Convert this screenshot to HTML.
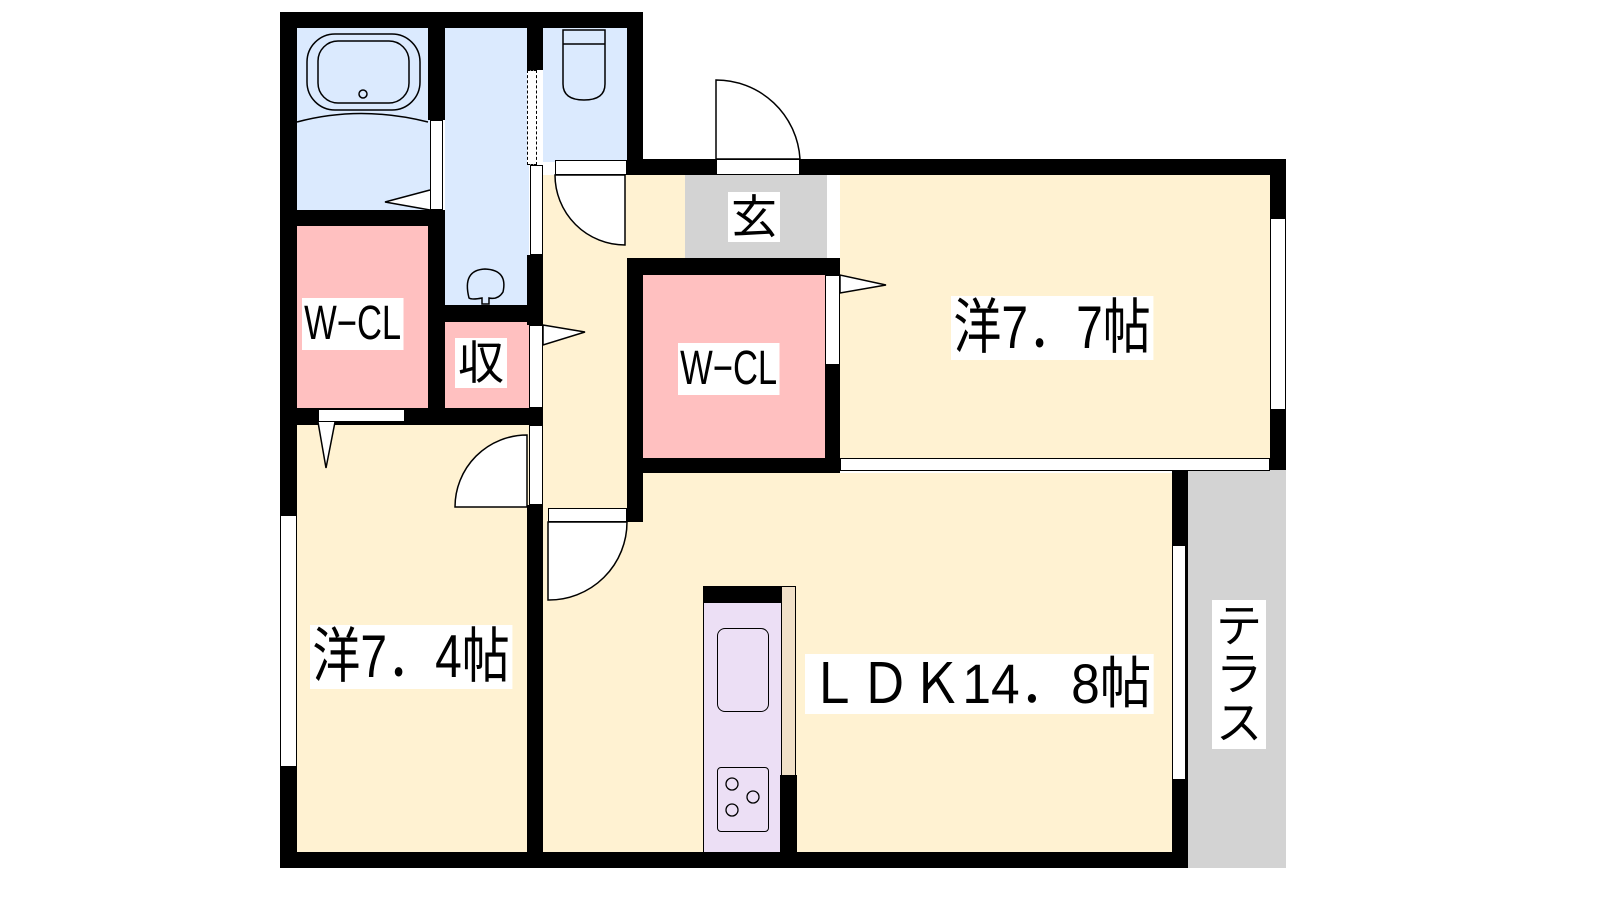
<!DOCTYPE html>
<html><head><meta charset="utf-8"><style>
body{margin:0;width:1600px;height:900px;background:#fff;position:relative;overflow:hidden;font-family:"Liberation Sans","Noto Sans CJK JP",sans-serif}
div{position:absolute;box-sizing:border-box}
.k{background:#000}.b{background:#dbeafe}.p{background:#ffc0c0}.c{background:#fff2d2}.g{background:#d3d3d3}
.w{background:#fff;border:1px solid #000}
.t{background:#fff;color:#000;line-height:1;white-space:nowrap;padding:2px 3px}
</style></head><body>
<div class="b" style="left:297px;top:28px;width:135px;height:184px"></div>
<div class="b" style="left:445px;top:28px;width:84px;height:280px"></div>
<div class="b" style="left:543px;top:28px;width:85px;height:134px"></div>
<div class="p" style="left:297px;top:226px;width:133px;height:184px"></div>
<div class="p" style="left:445px;top:322px;width:84px;height:88px"></div>
<div class="c" style="left:543px;top:175px;width:142px;height:350px"></div>
<div class="g" style="left:685px;top:175px;width:142px;height:85px"></div>
<div class="p" style="left:643px;top:275px;width:184px;height:185px"></div>
<div class="c" style="left:840px;top:175px;width:432px;height:285px"></div>
<div class="c" style="left:297px;top:425px;width:232px;height:429px"></div>
<div class="c" style="left:543px;top:473px;width:631px;height:381px"></div>
<div class="g" style="left:1188px;top:470px;width:98px;height:398px"></div>
<div class="k" style="left:280px;top:12px;width:17px;height:856px"></div>
<div class="k" style="left:280px;top:12px;width:363px;height:16px"></div>
<div class="k" style="left:627px;top:12px;width:16px;height:163px"></div>
<div class="k" style="left:627px;top:159px;width:659px;height:16px"></div>
<div class="k" style="left:1270px;top:159px;width:16px;height:311px"></div>
<div class="k" style="left:280px;top:852px;width:908px;height:16px"></div>
<div class="k" style="left:1172px;top:470px;width:16px;height:398px"></div>
<div class="k" style="left:297px;top:210px;width:148px;height:16px"></div>
<div class="k" style="left:428px;top:28px;width:17px;height:92px"></div>
<div class="k" style="left:428px;top:210px;width:17px;height:200px"></div>
<div class="k" style="left:527px;top:28px;width:16px;height:42px"></div>
<div class="k" style="left:527px;top:255px;width:16px;height:70px"></div>
<div class="k" style="left:445px;top:305px;width:98px;height:17px"></div>
<div class="k" style="left:280px;top:408px;width:263px;height:17px"></div>
<div class="k" style="left:527px;top:505px;width:16px;height:363px"></div>
<div class="k" style="left:627px;top:258px;width:213px;height:17px"></div>
<div class="k" style="left:627px;top:258px;width:16px;height:264px"></div>
<div class="k" style="left:825px;top:365px;width:15px;height:108px"></div>
<div class="k" style="left:825px;top:258px;width:15px;height:17px"></div>
<div class="k" style="left:627px;top:458px;width:213px;height:15px"></div>
<div class="w" style="left:716px;top:159px;width:84px;height:16px"></div>
<div class="w" style="left:555px;top:160px;width:72px;height:15px"></div>
<div class="w" style="left:430px;top:120px;width:13px;height:90px"></div>
<div class="w" style="left:527px;top:70px;width:10px;height:95px;border-style:dashed"></div>
<div class="w" style="left:530px;top:165px;width:13px;height:90px"></div>
<div class="w" style="left:529px;top:325px;width:14px;height:83px"></div>
<div class="w" style="left:529px;top:425px;width:14px;height:80px"></div>
<div class="w" style="left:318px;top:409px;width:87px;height:13px"></div>
<div class="w" style="left:825px;top:275px;width:15px;height:90px"></div>
<div class="w" style="left:548px;top:508px;width:79px;height:14px"></div>
<div class="w" style="left:840px;top:458px;width:430px;height:13px"></div>
<div class="w" style="left:1270px;top:218px;width:16px;height:192px"></div>
<div class="w" style="left:1172px;top:545px;width:14px;height:235px"></div>
<div class="w" style="left:280px;top:515px;width:17px;height:252px"></div>
<svg style="position:absolute;left:0;top:0" width="1600" height="900" fill="none" stroke="#000" stroke-width="1.5">
<path d="M716 159V80A84 84 0 0 1 800 159Z" fill="#fff"/>
<path d="M625 245A70 70 0 0 1 555 175H625Z" fill="#fff"/>
<path d="M527 507H455A72 72 0 0 1 527 435Z" fill="#fff"/>
<path d="M548 600V522H627A78 78 0 0 1 548 600Z" fill="#fff"/>
<path d="M430 190L385 202L430 210" fill="#fff"/>
<path d="M543 325V345L585 332Z" fill="#fff"/>
<path d="M840 275V293L886 285Z" fill="#fff"/>
<path d="M318 422L326 468L335 422" fill="#fff"/>
<rect x="307" y="34" width="113" height="76" rx="28"/><rect x="318" y="41" width="91" height="62" rx="20"/><circle cx="363" cy="94" r="4"/>
<path d="M297 122Q360 105 428 122"/>
<path d="M563 30h42v14h-42zM563 44h42v40q0 16-21 16t-21-16z"/>
<path d="M469 298Q462 270 485 269Q508 270 503 292Q498 300 489 298L489 304H482L482 298Q472 300 469 298Z"/>
</svg>
<div style="left:703px;top:586px;width:80px;height:267px;background:#ecdff5;border:1px solid #000"></div>
<div class="k" style="left:703px;top:586px;width:78px;height:17px"></div>
<div style="left:781px;top:586px;width:15px;height:190px;background:#f0e0c8;border:1px solid #000"></div>
<div class="k" style="left:780px;top:775px;width:17px;height:78px"></div>
<div style="left:717px;top:628px;width:52px;height:84px;border:1.5px solid #000;border-radius:8px"></div>
<div style="left:717px;top:767px;width:52px;height:65px;border:1.5px solid #000;border-radius:4px"></div>
<svg style="position:absolute;left:717px;top:767px" width="52" height="65" fill="none" stroke="#000" stroke-width="1.3"><circle cx="15" cy="17" r="6"/><circle cx="36" cy="30" r="6"/><circle cx="15" cy="43" r="6"/></svg>
<div class="t" style="left:302px;top:298px;font-size:48px;transform:scaleX(.72);transform-origin:left">W−CL</div>
<div class="t" style="left:455px;top:338px;font-size:46px">収</div>
<div class="t" style="left:728px;top:192px;font-size:46px">玄</div>
<div class="t" style="left:678px;top:343px;font-size:48px;transform:scaleX(.72);transform-origin:left">W−CL</div>
<div class="t" style="left:951px;top:296px;font-size:60px;transform:scaleX(.8);transform-origin:left">洋7．7帖</div>
<div class="t" style="left:310px;top:625px;font-size:60px;transform:scaleX(.8);transform-origin:left">洋7．4帖</div>
<div class="t" style="left:805px;top:654px;font-size:56px;transform:scaleX(.92);transform-origin:left">ＬＤＫ14．8帖</div>
<div class="t" style="left:1212px;top:600px;width:54px;font-size:46px;white-space:normal;line-height:1.05;text-align:center">テラス</div>
</body></html>
